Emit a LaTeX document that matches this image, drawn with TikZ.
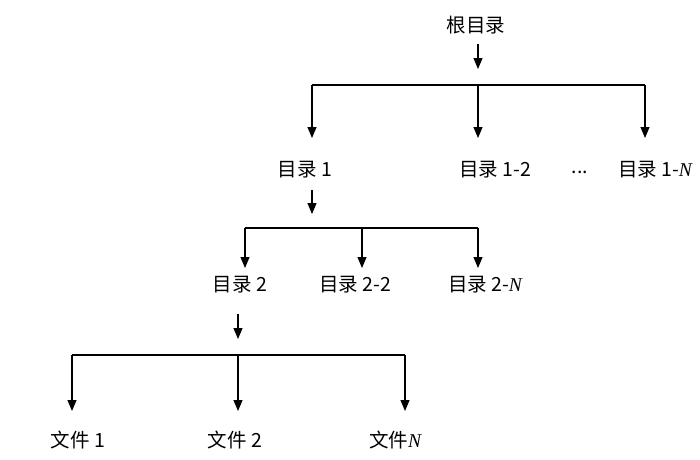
\documentclass[tikz,border=0pt]{standalone}
\usepackage{fontspec}
\setmainfont{Liberation Sans}
\newfontfamily\cjk{Noto Sans CJK SC}
\newfontfamily\ser{Liberation Serif}
\newcommand{\NN}{{\ser\itshape N}}
\usetikzlibrary{arrows.meta}
\begin{document}
\begin{tikzpicture}[x=1pt,y=-1pt,
  lbl/.style={font=\cjk\fontsize{19.5}{22}\selectfont, inner sep=2pt},
  arr/.style={line width=1.1pt,-{Triangle[length=11pt,width=9pt]}},
  ln/.style={line width=1.1pt}]
\useasboundingbox (0,0) rectangle (700,459);
\node[lbl] (root) at (476,25) {根目录};
\node[lbl] (d1) at (305,170) {目录 1};
\node[lbl] (d12) at (495,170) {目录 1-2};
\node[lbl] (dots) at (580,172) {...};
\node[lbl] (d1n) at (655,170) {目录 1-\NN};
\node[lbl] (d2) at (240,285) {目录 2};
\node[lbl] (d22) at (355,285) {目录 2-2};
\node[lbl] (d2n) at (485,285) {目录 2-\NN};
\node[lbl] (f1) at (78,440) {文件 1};
\node[lbl] (f2) at (235,440) {文件 2};
\node[lbl] (fn) at (395,440) {文件\NN};
\coordinate (a1) at (478,44); \coordinate (a1e) at (478,69);
\coordinate (b1) at (312,190); \coordinate (b1e) at (312,214);
\coordinate (c1) at (238,314); \coordinate (c1e) at (238,339);
\draw[arr] (a1) -- (a1e);
\draw[arr] (b1) -- (b1e);
\draw[arr] (c1) -- (c1e);
\coordinate (h1l) at (312,85); \coordinate (h1r) at (645,85);
\draw[ln] (h1l) -- (h1r);
\foreach \x/\n in {312/p1,478/p2,645/p3}{\coordinate (\n) at (\x,85); \coordinate (\n e) at (\x,138); \draw[arr] (\n) -- (\n e);}
\draw[ln] (245,228) coordinate (h2l) -- (478,228) coordinate (h2r);
\foreach \x/\n in {245/q1,362/q2,478/q3}{\coordinate (\n) at (\x,228); \coordinate (\n e) at (\x,268); \draw[arr] (\n) -- (\n e);}
\draw[ln] (72,355) coordinate (h3l) -- (405,355) coordinate (h3r);
\foreach \x/\n in {72/r1,238/r2,405/r3}{\coordinate (\n) at (\x,355); \coordinate (\n e) at (\x,411); \draw[arr] (\n) -- (\n e);}
\end{tikzpicture}
\end{document}
